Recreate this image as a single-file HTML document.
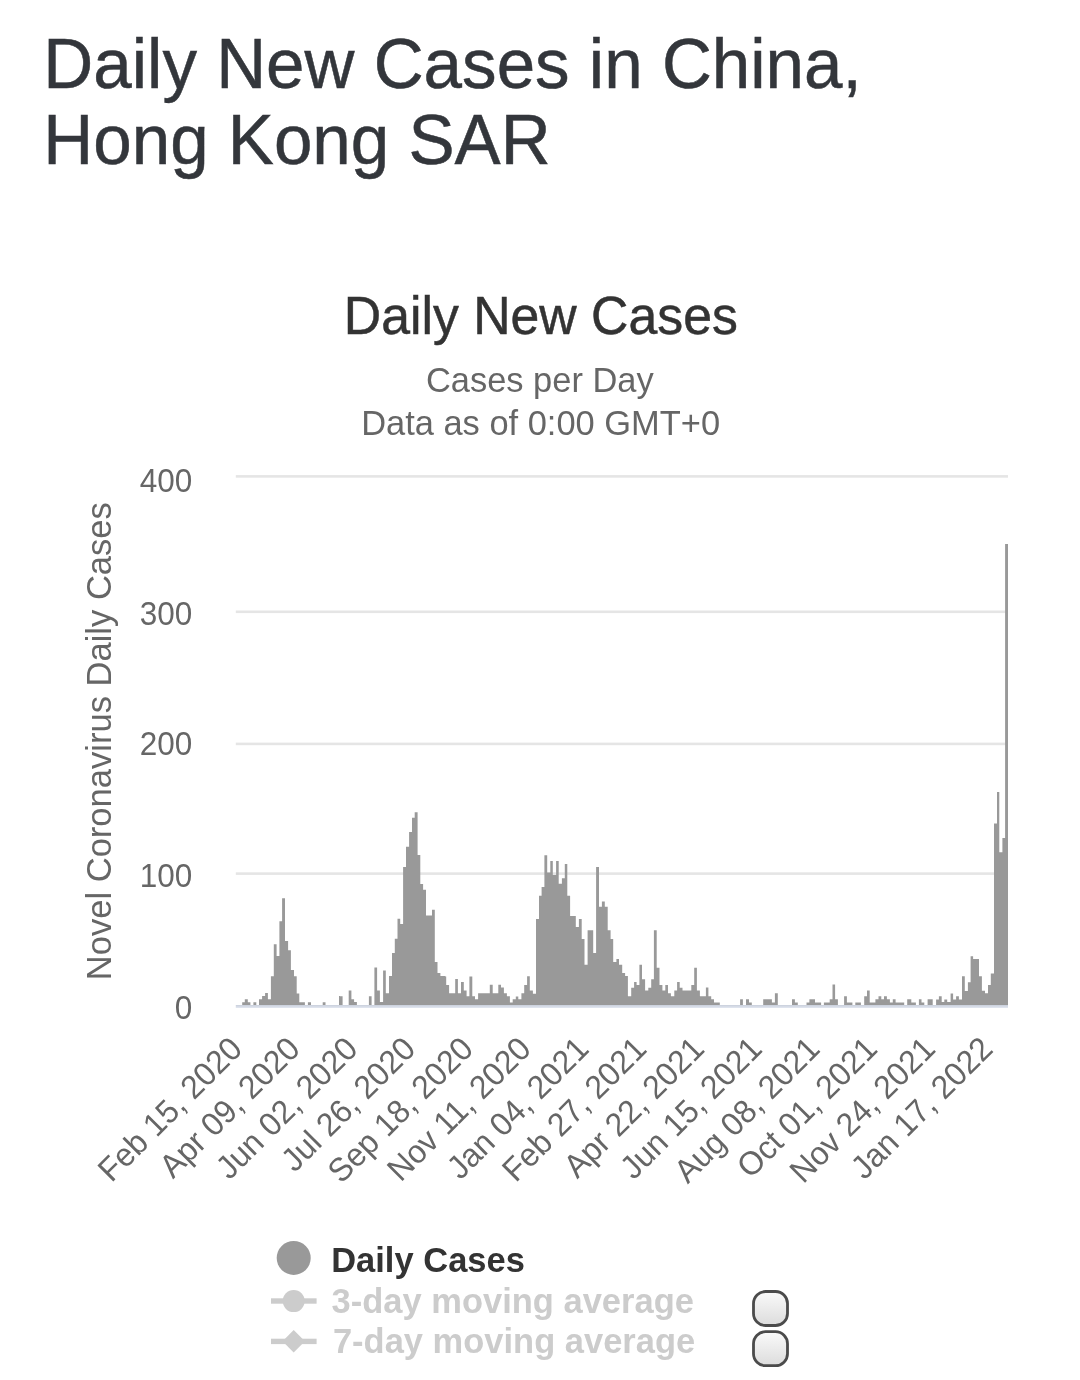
<!DOCTYPE html>
<html><head><meta charset="utf-8"><title>Daily New Cases in China, Hong Kong SAR</title>
<style>
html,body{margin:0;padding:0;background:#fff;}
body{width:1080px;height:1380px;overflow:hidden;position:relative;font-family:"Liberation Sans",Arial,Helvetica,sans-serif;}
svg{position:absolute;left:0;top:0;display:block}
text{font-family:"Liberation Sans",Arial,Helvetica,sans-serif;}
.h{font-size:69.15px;fill:#33363b;stroke:#33363b;stroke-width:0.5px}
.ct{font-size:51.75px;fill:#333;stroke:#333;stroke-width:0.5px}
.st{font-size:34.45px;fill:#666}
.ax{font-size:31.5px;fill:#666}
.xl{font-size:31.8px;fill:#666}
.yt{font-size:34.55px;fill:#666}
.lg{font-size:34.5px;font-weight:bold}
</style></head><body>
<svg width="1080" height="1380" viewBox="0 0 1080 1380">
<rect width="1080" height="1380" fill="#fff"/>
<defs><linearGradient id="axl" x1="0" y1="0" x2="0" y2="1"><stop offset="0" stop-color="#c9cfdb"/><stop offset="1" stop-color="#e2e7f1"/></linearGradient><linearGradient id="cb" x1="0" y1="0" x2="0" y2="1"><stop offset="0" stop-color="#fafafa"/><stop offset="1" stop-color="#dcdcdc"/></linearGradient></defs>
<text transform="translate(43.3,88.45) scale(1,1.015)" class="h">Daily New Cases in China,</text>
<text transform="translate(43.3,163.65) scale(1,1.015)" class="h">Hong Kong SAR</text>
<text transform="translate(540.8,333.5) scale(1,1.02)" text-anchor="middle" class="ct">Daily New Cases</text>
<text transform="translate(539.8,391.8) scale(1,1.01)" text-anchor="middle" class="st">Cases per Day</text>
<text transform="translate(540.6,435.0) scale(1,1.01)" text-anchor="middle" class="st">Data as of 0:00 GMT+0</text>
<rect x="235.8" y="475.1" width="772.2" height="2.6" fill="#e5e5e5"/><rect x="235.8" y="610.5" width="772.2" height="2.6" fill="#e5e5e5"/><rect x="235.8" y="742.6" width="772.2" height="2.6" fill="#e5e5e5"/><rect x="235.8" y="872.3" width="772.2" height="2.6" fill="#e5e5e5"/>
<rect x="235.8" y="1005" width="772.2" height="3" fill="url(#axl)"/>
<path d="M242.2 1005V1002.2H244.8V1005ZM244.8 1005V999.2H247.8V1005ZM247.8 1005V1002.2H250.4V1005ZM253.4 1005V1002.2H256.3V1005ZM259.0 1005V999.2H262.1V1005ZM262.1 1005V996.1H265.1V1005ZM265.1 1005V993.1H267.9V1005ZM267.9 1005V999.2H270.9V1005ZM270.9 1005V976.3H273.8V1005ZM273.8 1005V944.2H276.6V1005ZM276.6 1005V955.9H279.4V1005ZM279.4 1005V921.3H282.1V1005ZM282.1 1005V898.3H285.0V1005ZM285.0 1005V941.1H288.1V1005ZM288.1 1005V950.3H290.9V1005ZM290.9 1005V970.1H294.0V1005ZM294.0 1005V976.3H296.7V1005ZM296.7 1005V993.6H299.3V1005ZM299.3 1005V1002.2H304.9V1005ZM307.9 1005V1002.2H311.0V1005ZM322.7 1005V1002.2H325.5V1005ZM339.0 1005V996.1H340.0V1005ZM340.0 1005V996.3H342.6V1005ZM348.7 1005V990.5H351.4V1005ZM351.4 1005V999.3H354.1V1005ZM354.1 1005V1002.0H356.9V1005ZM368.9 1005V996.3H371.6V1005ZM374.4 1005V967.4H377.1V1005ZM377.1 1005V990.5H379.9V1005ZM379.9 1005V1002.0H383.1V1005ZM383.1 1005V970.4H385.8V1005ZM385.8 1005V993.2H389.0V1005ZM389.0 1005V976.0H392.0V1005ZM392.0 1005V952.9H394.8V1005ZM394.8 1005V938.7H397.5V1005ZM397.5 1005V918.7H400.2V1005ZM400.2 1005V924.0H403.1V1005ZM403.1 1005V866.9H406.0V1005ZM406.0 1005V846.7H409.1V1005ZM409.1 1005V831.9H412.0V1005ZM412.0 1005V817.8H414.7V1005ZM414.7 1005V812.2H417.6V1005ZM417.6 1005V855.1H420.3V1005ZM420.3 1005V884.1H423.1V1005ZM423.1 1005V889.8H426.0V1005ZM426.0 1005V915.6H432.0V1005ZM432.0 1005V909.8H434.8V1005ZM434.8 1005V962.0H437.5V1005ZM437.5 1005V973.1H440.4V1005ZM440.4 1005V976.0H445.3V1005ZM445.0 1005V976.4H446.2V1005ZM446.2 1005V985.0H449.1V1005ZM449.1 1005V993.2H455.2V1005ZM455.2 1005V978.9H457.9V1005ZM457.9 1005V993.2H461.0V1005ZM461.0 1005V982.0H463.8V1005ZM463.8 1005V990.6H466.6V1005ZM466.6 1005V996.3H469.4V1005ZM469.4 1005V976.4H472.3V1005ZM472.3 1005V996.3H475.0V1005ZM475.0 1005V999.3H478.1V1005ZM478.1 1005V993.2H489.8V1005ZM489.8 1005V984.7H492.7V1005ZM492.7 1005V993.2H498.3V1005ZM498.3 1005V984.7H501.0V1005ZM501.0 1005V987.6H503.9V1005ZM503.9 1005V993.2H506.9V1005ZM506.9 1005V996.3H509.9V1005ZM509.9 1005V1002.4H512.7V1005ZM512.7 1005V999.3H515.8V1005ZM515.8 1005V996.6H518.3V1005ZM518.3 1005V999.3H521.4V1005ZM521.4 1005V993.2H524.2V1005ZM524.2 1005V985.0H527.1V1005ZM527.1 1005V976.2H529.8V1005ZM529.8 1005V990.6H532.8V1005ZM530.0 1005V990.8H532.9V1005ZM532.9 1005V993.7H536.0V1005ZM536.0 1005V919.0H539.0V1005ZM539.0 1005V895.8H541.6V1005ZM541.6 1005V887.1H544.4V1005ZM544.4 1005V855.2H547.2V1005ZM547.2 1005V872.6H550.3V1005ZM550.3 1005V861.0H552.8V1005ZM552.8 1005V874.9H556.1V1005ZM556.1 1005V861.0H558.7V1005ZM558.7 1005V883.8H561.9V1005ZM561.9 1005V878.2H564.8V1005ZM564.8 1005V863.9H567.3V1005ZM567.3 1005V895.8H570.1V1005ZM570.1 1005V916.1H575.8V1005ZM575.8 1005V927.1H578.9V1005ZM578.9 1005V919.0H581.7V1005ZM581.7 1005V939.0H584.5V1005ZM584.5 1005V964.8H587.6V1005ZM587.6 1005V930.2H593.2V1005ZM593.2 1005V952.9H596.1V1005ZM596.1 1005V867.0H599.0V1005ZM599.0 1005V906.8H601.9V1005ZM601.9 1005V901.6H604.8V1005ZM604.8 1005V906.8H607.7V1005ZM607.7 1005V930.2H610.6V1005ZM610.6 1005V939.0H613.2V1005ZM613.2 1005V961.9H616.4V1005ZM616.4 1005V959.0H619.0V1005ZM619.0 1005V964.8H622.2V1005ZM622.2 1005V973.1H625.1V1005ZM625.1 1005V976.1H627.9V1005ZM627.9 1005V996.3H630.8V1005ZM630.0 1005V996.3H631.2V1005ZM631.2 1005V987.8H634.1V1005ZM634.1 1005V982.0H636.6V1005ZM636.6 1005V985.0H639.4V1005ZM639.4 1005V964.7H642.0V1005ZM642.0 1005V979.2H645.1V1005ZM645.1 1005V990.6H648.3V1005ZM648.3 1005V987.8H651.2V1005ZM651.2 1005V979.2H653.9V1005ZM653.9 1005V930.3H656.7V1005ZM656.7 1005V967.7H659.5V1005ZM659.5 1005V985.0H662.4V1005ZM662.4 1005V990.4H665.3V1005ZM665.3 1005V985.0H668.0V1005ZM668.0 1005V993.2H670.9V1005ZM670.9 1005V996.3H674.3V1005ZM674.3 1005V990.4H677.1V1005ZM677.1 1005V982.0H679.7V1005ZM679.7 1005V987.8H682.5V1005ZM682.5 1005V990.4H691.3V1005ZM691.3 1005V985.0H694.2V1005ZM694.2 1005V967.7H696.9V1005ZM696.9 1005V990.6H699.9V1005ZM699.9 1005V996.3H705.9V1005ZM705.9 1005V987.6H708.4V1005ZM708.4 1005V996.3H711.2V1005ZM711.2 1005V999.3H714.0V1005ZM714.0 1005V1002.4H719.8V1005ZM740.1 1005V999.3H742.9V1005ZM746.0 1005V999.3H749.0V1005ZM749.0 1005V1002.4H751.8V1005ZM763.2 1005V999.3H771.9V1005ZM771.9 1005V1002.4H774.9V1005ZM774.9 1005V993.2H777.8V1005ZM792.0 1005V999.3H794.9V1005ZM794.9 1005V1002.4H797.8V1005ZM806.5 1005V1002.4H809.4V1005ZM809.4 1005V999.3H815.0V1005ZM815.0 1005V1002.4H821.1V1005ZM823.9 1005V1002.4H829.7V1005ZM829.7 1005V999.3H832.5V1005ZM832.5 1005V984.5H835.1V1005ZM835.1 1005V999.3H837.9V1005ZM844.1 1005V996.3H846.9V1005ZM846.9 1005V1002.4H852.4V1005ZM855.3 1005V1002.4H860.9V1005ZM864.2 1005V996.3H867.0V1005ZM867.0 1005V990.4H869.7V1005ZM869.7 1005V1002.4H875.4V1005ZM875.4 1005V999.3H878.5V1005ZM878.5 1005V996.3H881.3V1005ZM881.3 1005V999.3H884.0V1005ZM884.0 1005V996.3H886.9V1005ZM886.9 1005V999.3H889.9V1005ZM889.9 1005V1002.4H892.8V1005ZM892.8 1005V999.3H895.6V1005ZM895.6 1005V1002.4H904.2V1005ZM907.2 1005V999.3H911.3V1005ZM911.3 1005V1002.4H915.9V1005ZM918.9 1005V999.3H921.5V1005ZM921.5 1005V1002.4H924.3V1005ZM927.6 1005V999.3H932.7V1005ZM936.1 1005V999.4H938.9V1005ZM938.9 1005V996.3H941.7V1005ZM941.7 1005V1002.1H944.3V1005ZM944.3 1005V999.4H947.2V1005ZM947.2 1005V1002.1H950.6V1005ZM950.6 1005V993.5H953.1V1005ZM953.1 1005V999.4H956.1V1005ZM956.1 1005V996.3H958.9V1005ZM958.9 1005V999.4H962.0V1005ZM962.0 1005V976.2H964.8V1005ZM964.8 1005V991.0H967.9V1005ZM967.9 1005V982.2H970.6V1005ZM970.6 1005V956.3H973.1V1005ZM973.1 1005V959.1H979.0V1005ZM979.0 1005V976.2H981.9V1005ZM981.9 1005V990.7H985.0V1005ZM985.0 1005V993.3H988.0V1005ZM988.0 1005V985.0H990.8V1005ZM990.8 1005V973.4H994.0V1005ZM994.0 1005V823.5H997.0V1005ZM997.0 1005V792.1H999.3V1005ZM999.3 1005V852.3H1002.4V1005ZM1002.4 1005V837.9H1005.1V1005ZM1005.1 1005V544.1H1008.0V1005Z" fill="#999"/>
<text transform="translate(192.3,491.9) scale(1,1.05)" text-anchor="end" class="ax">400</text><text transform="translate(192.3,625.0) scale(1,1.05)" text-anchor="end" class="ax">300</text><text transform="translate(192.3,755.3) scale(1,1.05)" text-anchor="end" class="ax">200</text><text transform="translate(192.3,886.9) scale(1,1.05)" text-anchor="end" class="ax">100</text><text transform="translate(192.3,1018.9) scale(1,1.05)" text-anchor="end" class="ax">0</text>
<text transform="translate(111.3,741.2) rotate(-90)" text-anchor="middle" class="yt">Novel Coronavirus Daily Cases</text>
<text transform="translate(244.0,1050.8) rotate(-45) scale(1,1.03)" text-anchor="end" class="xl">Feb 15, 2020</text><text transform="translate(301.7,1050.8) rotate(-45) scale(1,1.03)" text-anchor="end" class="xl">Apr 09, 2020</text><text transform="translate(359.5,1050.8) rotate(-45) scale(1,1.03)" text-anchor="end" class="xl">Jun 02, 2020</text><text transform="translate(417.2,1050.8) rotate(-45) scale(1,1.03)" text-anchor="end" class="xl">Jul 26, 2020</text><text transform="translate(475.0,1050.8) rotate(-45) scale(1,1.03)" text-anchor="end" class="xl">Sep 18, 2020</text><text transform="translate(532.7,1050.8) rotate(-45) scale(1,1.03)" text-anchor="end" class="xl">Nov 11, 2020</text><text transform="translate(590.4,1050.8) rotate(-45) scale(1,1.03)" text-anchor="end" class="xl">Jan 04, 2021</text><text transform="translate(648.2,1050.8) rotate(-45) scale(1,1.03)" text-anchor="end" class="xl">Feb 27, 2021</text><text transform="translate(705.9,1050.8) rotate(-45) scale(1,1.03)" text-anchor="end" class="xl">Apr 22, 2021</text><text transform="translate(763.7,1050.8) rotate(-45) scale(1,1.03)" text-anchor="end" class="xl">Jun 15, 2021</text><text transform="translate(821.4,1050.8) rotate(-45) scale(1,1.03)" text-anchor="end" class="xl">Aug 08, 2021</text><text transform="translate(879.1,1050.8) rotate(-45) scale(1,1.03)" text-anchor="end" class="xl">Oct 01, 2021</text><text transform="translate(936.9,1050.8) rotate(-45) scale(1,1.03)" text-anchor="end" class="xl">Nov 24, 2021</text><text transform="translate(994.6,1050.8) rotate(-45) scale(1,1.03)" text-anchor="end" class="xl">Jan 17, 2022</text>
<circle cx="293.7" cy="1257.9" r="17" fill="#999"/>
<text transform="translate(331.2,1272.1) scale(1,1.015)" class="lg" fill="#333">Daily Cases</text>
<rect x="271" y="1298.3" width="45.6" height="5.4" fill="#ccc"/><circle cx="293.7" cy="1301.1" r="11" fill="#ccc"/>
<text transform="translate(331.6,1312.6) scale(1,1.015)" class="lg" fill="#ccc">3-day moving average</text>
<rect x="271" y="1338.7" width="45.6" height="5.4" fill="#ccc"/><path d="M282.5 1341.2L293.7 1330L304.9 1341.2L293.7 1352.4Z" fill="#ccc"/>
<text transform="translate(332.9,1352.8) scale(1,1.015)" class="lg" fill="#ccc">7-day moving average</text>

<rect x="753.5" y="1291.5" width="34" height="34" rx="12" ry="12" fill="url(#cb)" stroke="#4b4b4b" stroke-width="2.8"/>
<rect x="753.5" y="1331.7" width="34" height="34" rx="12" ry="12" fill="url(#cb)" stroke="#4b4b4b" stroke-width="2.8"/>
</svg>
</body></html>
